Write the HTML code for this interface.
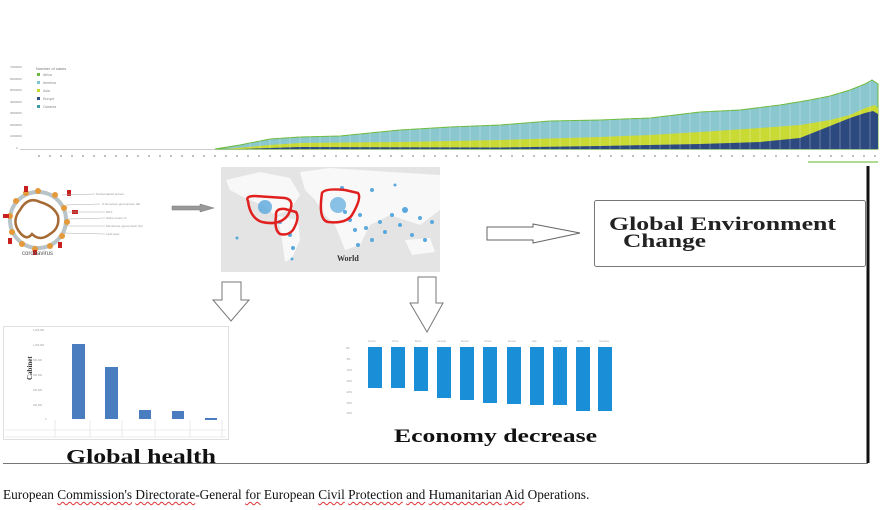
<!DOCTYPE html>
<html><head><meta charset="utf-8"><style>
body{margin:0;background:#fff;width:881px;height:510px;overflow:hidden;position:relative;font-family:"Liberation Serif",serif}
svg{position:absolute;left:0;top:0}
.cap{position:absolute;left:3px;top:487px;font-size:13.3px;color:#111;white-space:nowrap;font-family:"Liberation Serif",serif}
.w{text-decoration:underline wavy #d33;text-decoration-thickness:1px;text-underline-offset:2px}
</style></head><body>
<svg width="881" height="510" viewBox="0 0 881 510">
<g font-family="Liberation Sans" font-size="3" fill="#888">
<text x="10" y="68">7000000</text><text x="10" y="80">6000000</text><text x="10" y="91">5000000</text><text x="10" y="103">4000000</text><text x="10" y="114">3000000</text><text x="10" y="126">2000000</text><text x="10" y="137">1000000</text><text x="16" y="149">0</text>
</g>
<text x="36" y="70" font-family="Liberation Sans" font-size="4" fill="#777">Number of cases</text>
<g font-family="Liberation Sans" font-size="3.5" fill="#888">
<rect x="37" y="73" width="3" height="3" fill="#6dbb3c"/><text x="43" y="76">Africa</text>
<rect x="37" y="81" width="3" height="3" fill="#80c4cc"/><text x="43" y="84">America</text>
<rect x="37" y="89" width="3" height="3" fill="#c6d930"/><text x="43" y="92">Asia</text>
<rect x="37" y="97" width="3" height="3" fill="#2f4f86"/><text x="43" y="100">Europe</text>
<rect x="37" y="105" width="3" height="3" fill="#3a9e9e"/><text x="43" y="108">Oceania</text>
</g>
<line x1="20" y1="149.5" x2="878" y2="149.5" stroke="#bbb" stroke-width="0.8"/>
<polygon fill="#8ac7cf" stroke="#6dbb3c" stroke-width="1" points="215,149 240,145 270,139 300,137 340,136 400,130 450,127 500,125 550,121 600,120 650,118 700,112 740,110 780,105 810,100 830,96 850,90 865,84 872,80 878,84 878,149"/>
<polygon fill="#c9da35" points="225,149 270,145 300,143 400,142 500,140 600,137 650,135 700,132 760,128 800,125 830,120 850,115 865,108 875,105 878,108 878,149"/>
<polygon fill="#2d4a80" points="240,149 300,147 500,147.5 600,146 700,144 760,142 800,138 820,130 835,124 850,118 865,113 873,111 878,114 878,149"/>
<g stroke="#fff" stroke-width="0.6" opacity="0.45">
<path d="M250,130V149M260,130V149M270,130V149M280,130V149M290,130V149M300,130V149M310,130V149M320,130V149M330,130V149M340,130V149M350,130V149M360,130V149M370,130V149M380,125V149M390,125V149M400,125V149M410,125V149M420,125V149M430,125V149M440,125V149M450,125V149M460,120V149M470,120V149M480,120V149M490,120V149M500,120V149M510,120V149M520,120V149M530,120V149M540,120V149M550,115V149M560,115V149M570,115V149M580,115V149M590,115V149M600,115V149M610,115V149M620,115V149M630,115V149M640,115V149M650,115V149M660,115V149M670,115V149M680,115V149M690,110V149M700,110V149M710,110V149M720,110V149M730,110V149M740,110V149M750,110V149M760,105V149M770,105V149M780,105V149M790,105V149M800,100V149M810,100V149M820,95V149M830,95V149M840,90V149M850,85V149M860,80V149M870,80V149"/>
</g>
<g stroke="#aaa" stroke-width="1.5" stroke-dasharray="2 9">
<line x1="38" y1="156" x2="878" y2="156"/>
</g>
<line x1="808" y1="162" x2="878" y2="162" stroke="#8fd06a" stroke-width="1.5"/>

<g>
<circle cx="38" cy="220" r="28" fill="none" stroke="#b8c4c8" stroke-width="4"/>
<path d="M20,210 q8,-14 20,-8 q14,4 18,14 q2,12 -8,18 q-10,8 -18,0 q-6,8 -14,-4 q-6,-10 2,-20z" fill="none" stroke="#a66a35" stroke-width="2.5"/>
<g fill="#e49a3a">
<circle cx="38" cy="191" r="3"/><circle cx="55" cy="195" r="3"/><circle cx="64" cy="208" r="3"/><circle cx="67" cy="222" r="3"/><circle cx="62" cy="236" r="3"/><circle cx="50" cy="246" r="3"/><circle cx="35" cy="249" r="3"/><circle cx="22" cy="244" r="3"/><circle cx="12" cy="232" r="3"/><circle cx="10" cy="216" r="3"/><circle cx="16" cy="201" r="3"/><circle cx="26" cy="193" r="3"/>
</g>
<g fill="#c8201e">
<rect x="24" y="186" width="4" height="6"/><rect x="67" y="190" width="4" height="6"/><rect x="3" y="214" width="6" height="4"/><rect x="72" y="210" width="6" height="4"/><rect x="58" y="242" width="4" height="6"/><rect x="8" y="238" width="4" height="6"/><rect x="33" y="250" width="4" height="5"/>
</g>
<g stroke="#aaa" stroke-width="0.6"><line x1="62" y1="195" x2="95" y2="194"/><line x1="66" y1="205" x2="100" y2="204"/><line x1="68" y1="212" x2="105" y2="212"/><line x1="68" y1="219" x2="105" y2="218"/><line x1="66" y1="226" x2="105" y2="226"/><line x1="64" y1="233" x2="105" y2="234"/></g>
<g font-family="Liberation Sans" font-size="3" fill="#999"><text x="96" y="195">Nucleocapsid protein</text><text x="102" y="205">S' Envelope glycoprotein HE</text><text x="106" y="213">RNA</text><text x="106" y="219">Spike protein S</text><text x="106" y="227">Membrane glycoprotein (M)</text><text x="106" y="235">Lipid layer</text></g>
<text x="22" y="255" font-family="Liberation Sans" font-size="6" fill="#555">coronavirus</text>
</g>
<path d="M172,206 L200,206 L200,204 L214,208 L200,212 L200,210 L172,210 Z" fill="#999" stroke="#777" stroke-width="0.5"/>

<rect x="221" y="167" width="219" height="105" fill="#e4e4e4"/>
<g fill="#f8f8f8">
<path d="M226,180 L260,172 L290,178 L300,195 L290,210 L275,215 L262,205 L245,198 L230,190Z"/>
<path d="M278,216 L298,220 L300,240 L292,258 L285,262 L282,240Z"/>
<path d="M300,172 L330,168 L360,170 L440,175 L440,210 L420,225 L390,215 L370,225 L360,245 L345,250 L335,225 L325,215 L315,200 L305,190Z"/>
<path d="M405,240 L430,238 L435,252 L412,255Z"/>
</g>
<g fill="#5aa8de">
<circle cx="265" cy="207" r="7" opacity="0.8"/><circle cx="338" cy="205" r="8" opacity="0.7"/>
<circle cx="345" cy="212" r="2"/><circle cx="350" cy="220" r="2"/><circle cx="355" cy="230" r="2"/><circle cx="360" cy="215" r="2"/><circle cx="366" cy="228" r="2"/><circle cx="372" cy="240" r="2"/><circle cx="380" cy="222" r="2"/><circle cx="385" cy="232" r="2"/><circle cx="392" cy="215" r="2"/><circle cx="400" cy="225" r="2"/><circle cx="405" cy="210" r="3"/><circle cx="412" cy="235" r="2"/><circle cx="420" cy="218" r="2"/><circle cx="425" cy="240" r="2"/><circle cx="432" cy="222" r="2"/><circle cx="290" cy="235" r="2"/><circle cx="293" cy="248" r="2"/><circle cx="280" cy="222" r="2"/><circle cx="237" cy="238" r="1.5"/><circle cx="358" cy="245" r="2"/><circle cx="372" cy="190" r="2"/><circle cx="395" cy="185" r="1.5"/><circle cx="342" cy="188" r="2"/><circle cx="292" cy="259" r="1.5"/>
</g>
<g fill="none" stroke="#e0201e" stroke-width="2.5">
<path d="M248,201 Q245,196 255,196 L285,198 Q296,200 288,215 Q280,226 262,222 Q250,218 248,201Z"/>
<path d="M276,216 Q275,208 285,209 L296,212 Q300,218 293,230 Q288,236 280,234 Q274,230 276,216Z"/>
<path d="M322,193 Q325,188 345,190 L358,193 Q362,198 352,215 Q346,224 328,222 Q318,220 322,193Z"/>
</g>
<text x="337" y="261" font-family="Liberation Serif" font-size="8" font-weight="bold" fill="#333">World</text>

<path d="M487,227 L533,227 L533,224 L580,233 L533,243 L533,240 L487,240 Z" fill="#fff" stroke="#666" stroke-width="1"/>
<path d="M222,282 L241,282 L241,300 L249,300 L231,321 L213,300 L222,300 Z" fill="#fff" stroke="#777" stroke-width="1"/>
<path d="M418,277 L436,277 L436,303 L443,303 L427,332 L410,303 L418,303 Z" fill="#fff" stroke="#777" stroke-width="1"/>

<rect x="594.5" y="200.5" width="271" height="66" rx="2" fill="#fff" stroke="#777" stroke-width="1"/>
<text x="609" y="230" font-family="Liberation Serif" font-size="19" font-weight="bold" fill="#222" textLength="227" lengthAdjust="spacingAndGlyphs">Global Environment</text>
<text x="623" y="247" font-family="Liberation Serif" font-size="19" font-weight="bold" fill="#222" textLength="83" lengthAdjust="spacingAndGlyphs">Change</text>
<line x1="868" y1="166" x2="868" y2="463" stroke="#111" stroke-width="3"/>

<rect x="3.5" y="326.5" width="225" height="113" fill="#fff" stroke="#e0e0e0"/>
<text x="25" y="397" font-size="7" font-weight="bold" fill="#333" transform="rotate(-90 20 385)">Cabinet</text>
<g font-family="Liberation Sans" font-size="2.5" fill="#999"><text x="33" y="331">1,200,000</text><text x="33" y="346">1,000,000</text><text x="33" y="361">800,000</text><text x="33" y="376">600,000</text><text x="33" y="391">400,000</text><text x="33" y="406">200,000</text><text x="45" y="420">0</text></g>
<g fill="#4a7dbf">
<rect x="72" y="344" width="13" height="75"/><rect x="105" y="367" width="13" height="52"/><rect x="139" y="410" width="12" height="9"/><rect x="172" y="411" width="12" height="8"/><rect x="205" y="418" width="12" height="2"/>
</g>
<g stroke="#ddd" stroke-width="0.6" fill="none"><path d="M55,420V437M90,420V437M122,420V437M155,420V437M190,420V437M222,420V437M5,430H226M5,437H226"/></g>
<text x="66" y="463" font-size="20" font-weight="bold" fill="#111" textLength="150" lengthAdjust="spacingAndGlyphs">Global health</text>
<line x1="3" y1="463.5" x2="868" y2="463.5" stroke="#777" stroke-width="1"/>

<g font-family="Liberation Sans" font-size="2.5" fill="#999"><text x="346" y="349">0%</text><text x="346" y="360">-5%</text><text x="346" y="371">-10%</text><text x="346" y="382">-15%</text><text x="346" y="393">-20%</text><text x="346" y="404">-25%</text><text x="346" y="414">-30%</text></g>
<g fill="#1a8fd8">
<rect x="368" y="347" width="14" height="41"/><rect x="391" y="347" width="14" height="41"/><rect x="414" y="347" width="14" height="44"/><rect x="437" y="347" width="14" height="51"/><rect x="460" y="347" width="14" height="53"/><rect x="483" y="347" width="14" height="56"/><rect x="507" y="347" width="14" height="57"/><rect x="530" y="347" width="14" height="58"/><rect x="553" y="347" width="14" height="58"/><rect x="576" y="347" width="14" height="64"/><rect x="598" y="347" width="14" height="64"/>
</g>
<g font-family="Liberation Sans" font-size="2.5" fill="#aaa"><text x="368" y="342">France</text><text x="392" y="342">Africa</text><text x="415" y="342">Brazil</text><text x="437" y="342">Canada</text><text x="461" y="342">Mexico</text><text x="484" y="342">United</text><text x="508" y="342">Europe</text><text x="532" y="342">Italy</text><text x="554" y="342">United</text><text x="577" y="342">Spain</text><text x="599" y="342">Germany</text></g>
<text x="394" y="442" font-size="19" font-weight="bold" fill="#111" textLength="203" lengthAdjust="spacingAndGlyphs">Economy decrease</text>
</svg>
<div class="cap">European <span class="w">Commission's</span> <span class="w">Directorate</span>-General <span class="w">for</span> European <span class="w">Civil</span> <span class="w">Protection</span> <span class="w">and</span> <span class="w">Humanitarian</span> <span class="w">Aid</span> Operations.</div>
</body></html>
